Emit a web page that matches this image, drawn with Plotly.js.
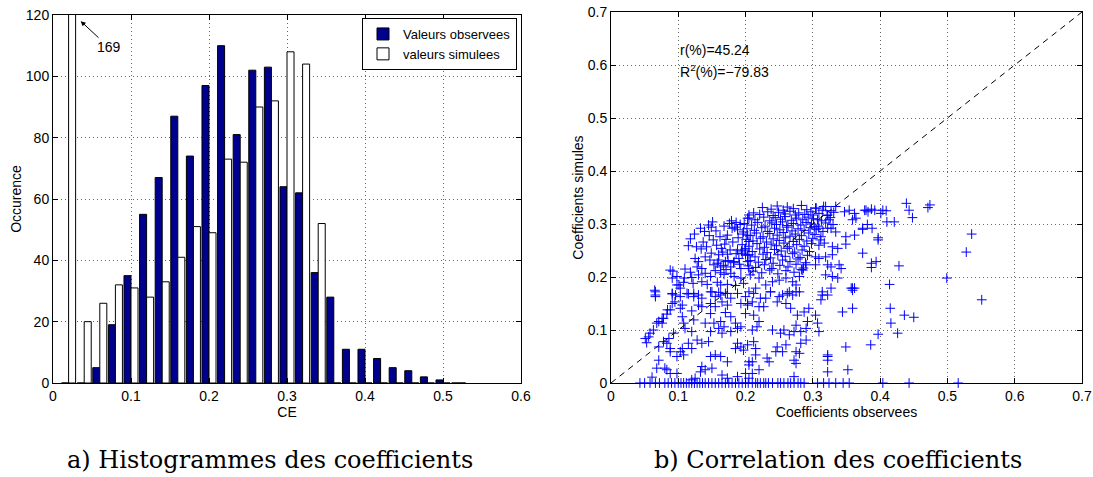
<!DOCTYPE html>
<html>
<head>
<meta charset="utf-8">
<script src="https://cdn.plot.ly/plotly-3.0.1.min.js"></script>
<style>html,body{margin:0;padding:0;background:#fff;}#chart{width:1093px;height:477px;}</style>
</head>
<body>
<div id="chart"></div>
<script>
// ---------- Histogram data ----------
const histBins = [0.02,0.04,0.06,0.08,0.10,0.12,0.14,0.16,0.18,0.20,0.22,0.24,0.26,0.28,0.30,0.32,0.34,0.36,0.38,0.40,0.42,0.44,0.46,0.48,0.50,0.52];
const observedCounts = [0,0,5,19,35,55,67,87,74,97,110,81,102,103,64,62,36,28,11,11,8,5,4,2,1,0];
const simulatedCounts = [169,20,26,32,31,28,33,41,51,49,73,72,90,92,108,104,52,0,0,0,0,0,0,0,0,0];
const histXTicks = [0,0.1,0.2,0.3,0.4,0.5,0.6];
const histYTicks = [0,20,40,60,80,100,120];

// ---------- Scatter data (observed coefficient, simulated coefficient) ----------
const scatterObs = [
0.151,0.149,0.133,0.179,0.186,0.203,0.205,0.180,0.188,0.197,0.146,0.162,0.152,0.173,0.115,0.127,0.134,0.142,0.157,0.164,
0.169,0.149,0.160,0.173,0.188,0.195,0.125,0.130,0.140,0.147,0.160,0.170,0.183,0.190,0.200,0.128,0.135,0.153,0.163,0.178,
0.193,0.092,0.088,0.110,0.118,0.130,0.140,0.148,0.168,0.178,0.183,0.193,0.098,0.109,0.120,0.101,0.108,0.122,0.135,0.143,
0.158,0.163,0.173,0.185,0.197,0.065,0.091,0.113,0.123,0.150,0.160,0.173,0.203,0.205,0.200,0.205,0.203,0.205,
0.334,0.347,0.354,0.362,0.364,0.359,0.377,0.324,0.322,0.314,0.319,0.304,0.300,0.307,0.302,0.309,0.327,0.334,0.349,0.362,
0.374,0.317,0.329,0.337,0.349,0.374,0.304,0.309,0.319,0.329,0.304,0.322,0.327,0.339,0.342,0.319,0.329,0.337,0.359,0.327,
0.314,0.207,0.220,0.230,0.240,0.250,0.260,0.270,0.275,0.280,0.285,0.290,0.215,0.237,0.265,0.280,0.357,0.362,
0.439,0.474,0.471,0.443,0.448,0.379,0.387,0.392,0.382,0.404,0.409,0.401,0.410,0.421,0.381,0.374,0.388,0.397,0.397,0.387,
0.394,0.387,0.428,0.414,0.499,0.536,0.528,0.551,0.415,0.436,0.450,0.416,0.426,0.397,0.386,0.322,
0.066,0.066,0.091,0.096,0.103,0.115,0.123,0.130,0.135,0.148,0.155,0.163,0.170,0.178,0.188,0.200,0.091,0.106,0.103,0.130,
0.135,0.148,0.155,0.165,0.173,0.193,0.203,0.084,0.120,0.148,0.170,0.178,0.200,0.076,0.068,0.076,0.106,0.108,0.123,0.140,
0.153,0.163,0.168,0.185,0.193,0.110,0.120,0.093,0.086,0.078,0.056,0.053,0.148,0.160,0.165,0.178,0.188,0.115,0.128,0.135,
0.145,0.120,0.103,0.108,0.098,0.106,0.088,0.088,0.188,0.193,0.185,0.197,0.203,0.071,0.068,0.080,0.083,0.098,0.061,0.135,
0.140,0.133,0.150,0.163,0.155,0.148,0.173,0.165,0.173,0.188,0.200,0.205,0.125,0.120,
0.051,0.058,0.063,0.071,0.078,0.083,0.088,0.095,0.091,0.098,0.103,0.071,0.083,0.088,0.066,
0.205,0.212,0.222,0.230,0.237,0.250,0.255,0.262,0.270,0.275,0.203,0.210,0.220,0.227,0.247,0.260,0.267,0.277,0.287,0.294,
0.304,0.312,0.314,0.322,0.344,0.359,0.359,0.212,0.220,0.217,0.210,0.240,0.252,0.257,0.265,0.272,0.275,0.282,0.290,0.292,
0.307,0.309,0.212,0.215,0.215,0.210,0.205,0.232,0.235,0.220,0.210,0.205,0.247,0.245,0.255,0.260,0.282,0.290,0.275,0.280,
0.272,0.275,0.272,0.322,0.322,0.322,0.349,0.352,
0.225,0.238,0.247,0.256,0.262,0.271,0.283,0.291,0.305,0.316,0.327,
0.212,0.221,0.233,0.241,0.249,0.258,0.266,0.274,0.279,0.288,0.297,0.309,0.321,0.331,
0.205,0.214,0.227,0.236,0.244,0.252,0.259,0.268,0.276,0.285,0.293,0.301,0.313,0.326,
0.198,0.209,0.218,0.229,0.239,0.246,0.255,0.263,0.271,0.282,0.290,0.298,0.308,0.319,0.330,
0.202,0.213,0.224,0.233,0.243,0.251,0.261,0.269,0.278,0.287,0.296,0.305,0.315,0.322,
0.196,0.207,0.216,0.226,0.236,0.247,0.256,0.266,0.274,0.283,0.294,0.303,0.312,
0.201,0.211,0.222,0.231,0.241,0.250,0.259,0.271,0.280,0.291,0.300,0.311,
0.195,0.205,0.217,0.228,0.238,0.246,0.257,0.265,0.276,0.287,0.298,0.309,
0.199,0.210,0.221,0.232,0.243,0.253,0.262,0.273,0.284,0.295,
0.203,0.214,0.226,0.237,0.248,0.259,0.270,0.281,0.292,
0.207,0.219,0.230,0.241,0.255,0.266,0.278,0.289,
0.204,0.215,0.228,0.239,0.251,0.263,0.275,0.286,
0.211,0.224,0.236,0.248,0.260,0.272,0.283,
0.168,0.176,0.184,0.192,0.171,0.181,0.189,0.166,0.177,0.186,0.194,0.158,0.167,0.174,0.182,0.191,0.155,0.163,0.171,0.139,0.145,0.156,0.118,0.124,0.137,
0.043,0.050,0.058,0.066,0.072,0.080,0.085,0.090,0.095,0.100,0.104,0.108,0.112,0.116,0.120,0.124,0.128,0.132,0.136,0.140,
0.145,0.150,0.155,0.160,0.165,0.170,0.175,0.180,0.185,0.190,0.195,0.200,0.204,0.210,0.215,0.218,0.222,0.227,0.230,0.234,
0.240,0.248,0.252,0.257,0.263,0.267,0.272,0.278,0.282,0.287,0.307,0.316,0.324,0.334,0.345,0.354,0.404,0.443,0.516
];
const scatterSim = [
0.304,0.294,0.292,0.306,0.303,0.311,0.317,0.292,0.289,0.285,0.278,0.276,0.270,0.279,0.259,0.257,0.253,0.257,0.260,0.254,
0.262,0.245,0.242,0.243,0.251,0.245,0.235,0.229,0.238,0.232,0.232,0.229,0.229,0.235,0.242,0.219,0.216,0.223,0.219,0.219,
0.216,0.211,0.213,0.215,0.209,0.204,0.207,0.201,0.205,0.207,0.201,0.198,0.201,0.198,0.199,0.185,0.190,0.188,0.191,0.186,
0.190,0.185,0.186,0.184,0.188,0.175,0.169,0.169,0.169,0.172,0.171,0.169,0.279,0.267,0.254,0.242,0.229,0.216,
0.333,0.323,0.326,0.320,0.311,0.308,0.326,0.308,0.317,0.326,0.333,0.330,0.317,0.308,0.295,0.292,0.292,0.285,0.276,0.279,
0.292,0.264,0.257,0.254,0.262,0.245,0.238,0.235,0.238,0.242,0.223,0.223,0.219,0.223,0.216,0.204,0.201,0.198,0.179,0.179,
0.172,0.204,0.198,0.185,0.191,0.194,0.198,0.191,0.185,0.201,0.213,0.223,0.179,0.172,0.172,0.172,0.179,0.179,
0.339,0.336,0.331,0.326,0.312,0.326,0.328,0.326,0.323,0.326,0.325,0.320,0.304,0.304,0.299,0.290,0.292,0.274,0.270,0.226,
0.229,0.218,0.221,0.186,0.198,0.281,0.247,0.157,0.141,0.128,0.124,0.113,0.094,0.092,0.072,0.050,
0.172,0.163,0.168,0.166,0.163,0.168,0.163,0.166,0.160,0.172,0.163,0.166,0.169,0.160,0.169,0.163,0.150,0.147,0.141,0.147,
0.144,0.150,0.144,0.153,0.147,0.150,0.150,0.138,0.136,0.131,0.133,0.125,0.131,0.122,0.113,0.113,0.125,0.113,0.119,0.113,
0.113,0.116,0.106,0.113,0.106,0.103,0.097,0.094,0.084,0.078,0.087,0.076,0.097,0.103,0.094,0.097,0.103,0.075,0.081,0.075,
0.078,0.065,0.059,0.053,0.050,0.065,0.065,0.059,0.075,0.068,0.065,0.062,0.072,0.043,0.028,0.028,0.025,0.018,0.011,0.031,
0.025,0.021,0.028,0.050,0.053,0.050,0.040,0.015,0.009,0.012,0.018,0.040,0.009,0.006,
0.084,0.094,0.100,0.116,0.122,0.130,0.138,0.153,0.198,0.185,0.179,0.068,0.075,0.018,0.166,
0.172,0.169,0.160,0.160,0.172,0.163,0.166,0.169,0.166,0.172,0.147,0.153,0.144,0.144,0.153,0.150,0.141,0.128,0.134,0.141,
0.128,0.157,0.166,0.166,0.134,0.141,0.175,0.128,0.116,0.106,0.100,0.100,0.094,0.100,0.091,0.097,0.109,0.097,0.103,0.116,
0.113,0.097,0.078,0.065,0.053,0.040,0.034,0.047,0.040,0.025,0.018,0.009,0.068,0.059,0.059,0.072,0.075,0.081,0.059,0.056,
0.043,0.037,0.012,0.053,0.043,0.021,0.068,0.025,
0.331,0.328,0.334,0.326,0.332,0.329,0.335,0.327,0.330,0.333,0.325,
0.321,0.318,0.323,0.316,0.322,0.319,0.324,0.317,0.321,0.318,0.323,0.320,0.316,0.322,
0.311,0.308,0.313,0.306,0.312,0.309,0.314,0.307,0.311,0.308,0.313,0.310,0.306,0.312,
0.301,0.298,0.303,0.296,0.302,0.299,0.304,0.297,0.301,0.298,0.303,0.300,0.296,0.302,0.299,
0.291,0.288,0.293,0.286,0.292,0.289,0.294,0.287,0.291,0.288,0.293,0.290,0.286,0.292,
0.281,0.278,0.283,0.276,0.282,0.279,0.284,0.277,0.281,0.278,0.283,0.280,0.276,
0.271,0.268,0.273,0.266,0.272,0.269,0.274,0.267,0.271,0.268,0.273,0.270,
0.261,0.258,0.263,0.256,0.262,0.259,0.264,0.257,0.261,0.258,0.263,0.260,
0.251,0.248,0.253,0.246,0.252,0.249,0.254,0.247,0.251,0.248,
0.241,0.238,0.243,0.236,0.242,0.239,0.244,0.237,0.241,
0.231,0.228,0.233,0.226,0.232,0.229,0.234,0.227,
0.221,0.218,0.223,0.216,0.222,0.219,0.224,0.217,
0.211,0.208,0.213,0.206,0.212,0.209,0.214,
0.296,0.301,0.294,0.299,0.271,0.266,0.274,0.247,0.251,0.244,0.249,0.226,0.222,0.231,0.227,0.224,0.212,0.208,0.214,0.286,0.298,0.287,0.272,0.281,0.266,
0,0,0,0,0,0,0,0,0,0,0,0,0,0,0,0,0,0,0,0,
0,0,0,0,0,0,0,0,0,0,0,0,0,0,0,0,0,0,0,0,
0,0,0,0,0,0,0,0,0,0,0,0,0,0,0,0,0,0,0
];
const diagX = [0, 0.7];
const diagY = [0, 0.7];
const scatterTicks = [0,0.1,0.2,0.3,0.4,0.5,0.6,0.7];

const W = 1093, H = 477;
const FONT = '"Liberation Sans", Arial, Helvetica, sans-serif';
const SERIF = '"DejaVu Serif", "Liberation Serif", serif';

function axisStyle(extra) {
  return Object.assign({
    showline: true, linecolor: '#000', linewidth: 1, mirror: 'ticks',
    ticks: 'inside', ticklen: 5, tickcolor: '#000', tickwidth: 1,
    showgrid: true, gridcolor: '#666666', griddash: '1px,3px', gridwidth: 1,
    zeroline: false, tickfont: {family: FONT, size: 14, color: '#000'},
    automargin: false, fixedrange: true
  }, extra);
}

const traces = [
  {type: 'bar', name: 'Valeurs observees', x: histBins, y: observedCounts,
   marker: {color: '#00008f', line: {color: '#000', width: 1}}, xaxis: 'x', yaxis: 'y', hoverinfo: 'skip'},
  {type: 'bar', name: 'valeurs simulees', x: histBins, y: simulatedCounts,
   marker: {color: '#ffffff', line: {color: '#000', width: 1}}, xaxis: 'x', yaxis: 'y', hoverinfo: 'skip'},
  {type: 'scatter', mode: 'markers', x: scatterObs, y: scatterSim, showlegend: false,
   marker: {symbol: 'cross-thin-open', size: 7, color: '#0000ff', line: {color: 'rgba(0,0,255,0.9)', width: 1}},
   cliponaxis: false, xaxis: 'x2', yaxis: 'y2', hoverinfo: 'skip'},
  {type: 'scatter', mode: 'lines', x: diagX, y: diagY, showlegend: false,
   line: {color: '#000', width: 1, dash: '6px,5px'}, xaxis: 'x2', yaxis: 'y2', hoverinfo: 'skip'}
];

const layout = {
  width: W, height: H,
  margin: {l: 0, r: 0, t: 0, b: 0},
  paper_bgcolor: '#fff', plot_bgcolor: '#fff',
  font: {family: FONT, size: 14, color: '#000'},
  barmode: 'group', bargap: 0.1, bargroupgap: 0,
  showlegend: true,
  legend: {x: 517 / W, xanchor: 'right', y: 1 - 18 / H, yanchor: 'top',
           bordercolor: '#000', borderwidth: 1, bgcolor: '#fff',
           font: {family: FONT, size: 13, color: '#000'}, tracegroupgap: 0, itemwidth: 30},
  xaxis: axisStyle({domain: [53 / W, 521 / W], range: [0, 0.6], tickvals: histXTicks, anchor: 'y',
                    title: {text: 'CE', font: {family: FONT, size: 14}, standoff: 0}}),
  yaxis: axisStyle({domain: [94 / H, 462 / H], range: [0, 120], tickvals: histYTicks, anchor: 'x',
                    title: {text: 'Occurence', font: {family: FONT, size: 14}, standoff: 0}}),
  xaxis2: axisStyle({domain: [611 / W, 1082 / W], range: [0, 0.7], tickvals: scatterTicks, anchor: 'y2',
                     title: {text: 'Coefficients observees', font: {family: FONT, size: 14}, standoff: 0}}),
  yaxis2: axisStyle({domain: [94 / H, 465 / H], range: [0, 0.7], tickvals: scatterTicks, anchor: 'x2',
                     title: {text: 'Coefficients simules', font: {family: FONT, size: 14}, standoff: 0}}),
  annotations: [
    {xref: 'x', yref: 'y', x: 0.0355, y: 118, axref: 'x', ayref: 'y', ax: 0.0715, ay: 109.5,
     text: '169', showarrow: true, arrowhead: 2, arrowsize: 1, arrowwidth: 1, arrowcolor: '#000', standoff: 0,
     font: {family: FONT, size: 14, color: '#000'}},
    {xref: 'x2', yref: 'y2', x: 0.1, y: 0.628, text: 'r(%)=45.24', showarrow: false,
     xanchor: 'left', font: {family: FONT, size: 14, color: '#000'}},
    {xref: 'x2', yref: 'y2', x: 0.1, y: 0.588, text: 'R<sup>2</sup>(%)=\u221279.83', showarrow: false,
     xanchor: 'left', font: {family: FONT, size: 14, color: '#000'}},
    {xref: 'paper', yref: 'paper', x: 270 / W, y: 1 - 460 / H, text: 'a) Histogrammes des coefficients',
     showarrow: false, xanchor: 'center', yanchor: 'middle', font: {family: SERIF, size: 24, color: '#000'}},
    {xref: 'paper', yref: 'paper', x: 838 / W, y: 1 - 460 / H, text: 'b) Correlation des coefficients',
     showarrow: false, xanchor: 'center', yanchor: 'middle', font: {family: SERIF, size: 24, color: '#000'}}
  ]
};

Plotly.newPlot('chart', traces, layout, {staticPlot: true, displayModeBar: false});
</script>
</body>
</html>
